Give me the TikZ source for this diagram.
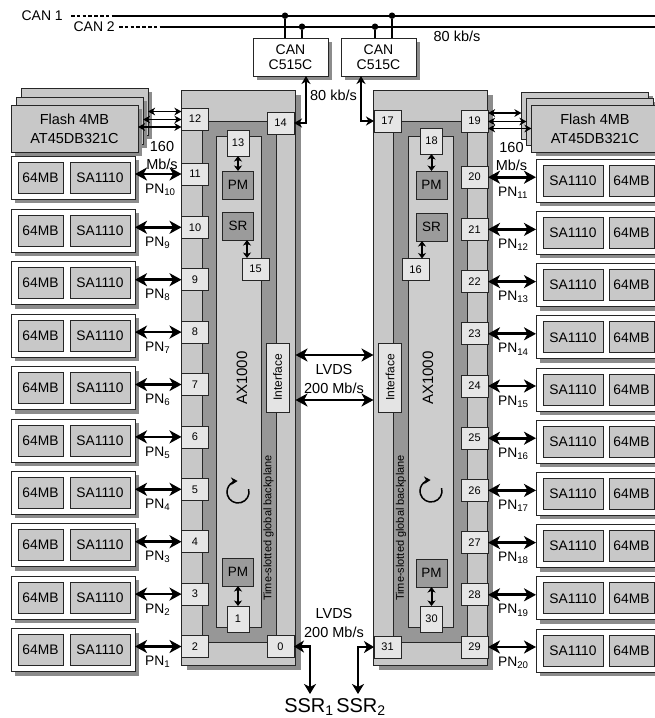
\documentclass[tikz,border=0pt]{standalone}
\usepackage{fontspec}
\setmainfont{Liberation Sans}
\usetikzlibrary{arrows.meta,shadows,calc}
\definecolor{boardg}{HTML}{C8C8C8}
\definecolor{frameg}{HTML}{979797}
\definecolor{innerg}{HTML}{CDCDCD}
\definecolor{slotg}{HTML}{E6E6E6}
\definecolor{pmg}{HTML}{9B9B9B}
\definecolor{shadg}{HTML}{8C8C8C}
\definecolor{ifg}{HTML}{E4E4E4}
\newcommand{\fsz}[1]{\fontsize{#1}{#1}\selectfont}
\tikzset{
  rbox/.style={draw=black!85, line width=0.7pt, rectangle, inner sep=0pt, outer sep=0pt},
  shad/.style={general shadow={fill=shadg, shadow xshift=4pt, shadow yshift=-4pt}},
  boardbox/.style={rbox, fill=boardg, general shadow={fill=shadg, shadow xshift=5pt, shadow yshift=-5pt}},
  framebox/.style={rbox, fill=frameg},
  innerbox/.style={rbox, fill=innerg},
  slotbox/.style={rbox, fill=slotg, minimum width=27pt, minimum height=22pt, font=\fsz{11}},
  tallslot/.style={slotbox, minimum width=22pt, minimum height=26pt},
  pmbox/.style={rbox, fill=pmg, minimum width=31pt, minimum height=28pt, font=\fsz{13.5}},
  ifbox/.style={rbox, fill=ifg, rotate=90, minimum width=69pt, minimum height=23pt, font=\fsz{12}},
  pnbox/.style={rbox, fill=white, shad, minimum height=43pt},
  chipbox/.style={rbox, fill=boardg, minimum height=31pt, font=\fsz{13.8}},
  flashbox/.style={rbox, fill=boardg, shad, minimum width=127pt, minimum height=47pt, align=center, font=\fontsize{14.5}{19}\selectfont},
  canbox/.style={rbox, fill=white, shad, minimum width=75pt, minimum height=38pt, align=center, font=\fontsize{14}{15}\selectfont},
  lbl/.style={inner sep=0pt, font=\fsz{14.5}},
  pnlbl/.style={inner sep=0pt, font=\fsz{13.8}},
  big/.style={line width=2.7pt, >={Stealth[length=12pt,width=13pt,inset=3.5pt]}, <->},
  ssr/.style={line width=2.7pt, >={Stealth[length=10pt,width=12pt,inset=3pt]}, <->},
  thinarr/.style={line width=1.5pt, >={Stealth[length=7pt,width=7.5pt,inset=2pt]}, <->},
  canarr/.style={line width=2.2pt, >={Stealth[length=8pt,width=9pt,inset=2.5pt]}, <->},
  small/.style={line width=2pt, >={Stealth[length=5.5pt,width=8pt,inset=1.5pt]}, <->},
  rot/.style={line width=1.5pt, -{Stealth[length=6.5pt,width=7.5pt,inset=2pt]}},
  bus/.style={line width=1.6pt},
  busdash/.style={line width=1.6pt, dash pattern=on 3.5pt off 2.3pt},
  dot/.style={circle, fill=black, inner sep=0pt, minimum size=6.5pt},
}
\begin{document}
\begin{tikzpicture}[x=1pt,y=-1pt]
\useasboundingbox[fill=white] (0,0) rectangle (655,718);

% ---------- CAN buses ----------
\node[anchor=east, inner sep=0pt, font=\fsz{14}] (lc1) at (63,15.7) {CAN 1};
\node[anchor=east, inner sep=0pt, font=\fsz{14}] (lc2) at (115,26.7) {CAN 2};
\coordinate (c1a) at (71,15.7);  \coordinate (c1b) at (113,15.7); \coordinate (c1e) at (655,15.7);
\coordinate (c2a) at (119,26.7); \coordinate (c2b) at (163,26.7); \coordinate (c2e) at (655,26.7);
\draw[busdash] (c1a) -- (c1b);
\draw[bus] (c1b) -- (c1e);
\draw[busdash] (c2a) -- (c2b);
\draw[bus] (c2b) -- (c2e);

\node[canbox] (can1) at (290.5,57) {CAN\\C515C};
\node[canbox] (can2) at (378.5,57) {CAN\\C515C};
\node[dot] (d1) at (285,15.7) {};
\node[dot] (d2) at (302,26.7) {};
\node[dot] (d3) at (375,26.7) {};
\node[dot] (d4) at (392,15.7) {};
\draw[line width=1.1pt] (d1) -- (d1 |- can1.north);
\draw[line width=1.1pt] (d2) -- (d2 |- can1.north);
\draw[line width=1.1pt] (d3) -- (d3 |- can2.north);
\draw[line width=1.1pt] (d4) -- (d4 |- can2.north);
\node[lbl] (kb1) at (457,36) {80 kb/s};

% ---------- Left board ----------
\node[boardbox, minimum width=114pt, minimum height=575pt] (bL) at (238.5,377.5) {};
\node[framebox, minimum width=74pt, minimum height=521pt] (fL) at (239,381.5) {};
\node[innerbox, minimum width=45pt, minimum height=491pt] (iL) at (238.5,381.5) {};
\node[ifbox] (ifL) at (277.5,377.5) {Interface};
\node[rotate=90, font=\fsz{15}, inner sep=0pt] (axL) at (242,378) {AX1000};
\node[rotate=90, font=\fsz{11}, inner sep=0pt] (tsL) at (268.5,528) {Time-slotted global backplane};
\coordinate (rotL) at (238,492);
\draw[rot] ([shift={(-15:11)}]rotL) arc[start angle=-15, end angle=268, radius=11];

\node[slotbox] (s12) at (195,119) {12};
\node[slotbox] (s14) at (280.5,123) {14};
\node[slotbox] (s0) at (280.5,646.5) {0};
\node[tallslot] (s13) at (238,143) {13};
\node[tallslot] (s1) at (238,619) {1};
\node[slotbox] (s15) at (255.5,269) {15};
\node[pmbox] (pmL1) at (238,185) {PM};
\node[pmbox] (srL) at (238,226) {SR};
\node[pmbox] (pmL2) at (238,572) {PM};
\draw[small] (s13.south) -- (pmL1.north);
\draw[small] ([xshift=9pt]srL.south) -- ([xshift=9pt]srL.south |- s15.north);
\draw[small] (pmL2.south) -- (s1.north);

% ---------- Right board ----------
\node[boardbox, minimum width=114pt, minimum height=575pt] (bR) at (430.5,377.5) {};
\node[framebox, minimum width=74pt, minimum height=521pt] (fR) at (430,381.5) {};
\node[innerbox, minimum width=45pt, minimum height=491pt] (iR) at (430.5,381.5) {};
\node[ifbox] (ifR) at (390,377.5) {Interface};
\node[rotate=90, font=\fsz{15}, inner sep=0pt] (axR) at (428,378) {AX1000};
\node[rotate=90, font=\fsz{11}, inner sep=0pt] (tsR) at (401,528) {Time-slotted global backplane};
\coordinate (rotR) at (431,491);
\draw[rot] ([shift={(-15:11)}]rotR) arc[start angle=-15, end angle=268, radius=11];

\node[slotbox] (s17) at (387.5,121) {17};
\node[slotbox] (s19) at (474.5,121) {19};
\node[slotbox] (s31) at (387.5,647) {31};
\node[tallslot] (s18) at (431.5,141) {18};
\node[tallslot] (s30) at (431.5,619) {30};
\node[slotbox] (s16) at (415.5,269.5) {16};
\node[pmbox] (pmR1) at (431.5,185) {PM};
\node[pmbox] (srR) at (431.5,227) {SR};
\node[pmbox] (pmR2) at (431.5,573) {PM};
\draw[small] (s18.south) -- (pmR1.north);
\draw[small] ([xshift=-9.5pt]srR.south) -- ([xshift=-9.5pt]srR.south |- s16.north);
\draw[small] (pmR2.south) -- (s30.north);

% ---------- Left processing nodes ----------
\foreach \k/\y in {1/646.5,2/594.1,3/541.7,4/489.3,5/436.9,6/384.5,7/332.1,8/279.7,9/227.3,10/174}{
  \pgfmathtruncatemacro\s{\k+1}
  \node[slotbox] (s\s) at (195,\y) {\s};
  \node[pnbox, minimum width=124pt] (pnL\k) at (73,\y+3.5) {};
  \node[chipbox, minimum width=45pt] (mL\k) at (40.5,\y+3.5) {64MB};
  \node[chipbox, minimum width=60pt] (cL\k) at (100,\y+3.5) {SA1110};
  \draw[big] (pnL\k.east |- s\s.west) -- (s\s.west);
  \node[pnlbl, anchor=west] (tL\k) at (145,\y+15.5) {PN\textsubscript{\k}};
}

% ---------- Right processing nodes ----------
\foreach \k/\y in {11/177.2,12/229.4,13/281.6,14/333.8,15/386,16/438.2,17/490.4,18/542.6,19/594.8,20/647}{
  \pgfmathtruncatemacro\s{\k+9}
  \node[slotbox] (s\s) at (474.5,\y) {\s};
  \node[pnbox, minimum width=125pt] (pnR\k) at (598.5,\y+3.5) {};
  \node[chipbox, minimum width=60pt] (cR\k) at (573,\y+3.5) {SA1110};
  \node[chipbox, minimum width=45pt] (mR\k) at (631.5,\y+3.5) {64MB};
  \draw[big] (s\s.east) -- (pnR\k.west |- s\s.east);
  \node[pnlbl, anchor=west] (tR\k) at (498,\y+15.5) {PN\textsubscript{\k}};
}

% ---------- Flash ----------
\node[flashbox] (flL3) at (84.5,111.5) {};
\node[flashbox] (flL2) at (79.5,120.5) {};
\node[flashbox] (flL1) at (74.5,128.5) {Flash 4MB\\AT45DB321C};
\draw[thinarr] (flL3.east) -- (flL3.east -| s12.west);
\draw[thinarr] ([yshift=1pt]flL2.east) -- ([yshift=1pt]flL2.east -| s12.west);
\draw[thinarr] ([yshift=1.5pt]flL1.east) -- ([yshift=1.5pt]flL1.east -| s12.west);
\node[lbl, align=center, font=\fontsize{14.5}{18}\selectfont] (r160L) at (162,156) {160\\Mb/s};

\node[flashbox] (flR3) at (585,115.5) {};
\node[flashbox] (flR2) at (590,121.5) {};
\node[flashbox] (flR1) at (595,128.5) {Flash 4MB\\AT45DB321C};
\draw[thinarr] ([yshift=2.5pt]s19.east |- flR3.west) -- ([yshift=2.5pt]flR3.west);
\draw[thinarr] (s19.east |- flR2.west) -- (flR2.west);
\draw[thinarr] (s19.east |- flR1.west) -- (flR1.west);
\node[lbl, align=center, font=\fontsize{14.5}{18}\selectfont] (r160R) at (511.5,157) {160\\Mb/s};

% ---------- CAN links ----------
\coordinate (k1) at (306,123);
\coordinate (k2) at (361,121);
\draw[canarr] (can1.south -| k1) -- (k1) -- (s14.east);
\draw[canarr] (can2.south -| k2) -- (k2) -- (s17.west);
\node[lbl] (kb2) at (333.5,95) {80 kb/s};

% ---------- LVDS between boards ----------
\coordinate (lv1) at (0,355);
\coordinate (lv2) at (0,400);
\draw[big] (bL.east |- lv1) -- (bR.west |- lv1);
\draw[big] (bL.east |- lv2) -- (bR.west |- lv2);
\node[lbl] (lvds1) at (334,370) {LVDS};
\node[lbl] (lvds1b) at (334,388) {200 Mb/s};

% ---------- SSR ----------
\node[lbl] (lvds2) at (334,614) {LVDS};
\node[lbl] (lvds2b) at (334,632) {200 Mb/s};
\coordinate (q1) at (310,646.5);
\coordinate (q1b) at (310,694);
\coordinate (q2) at (358,647);
\coordinate (q2b) at (358,694);
\draw[ssr] (s0.east) -- (q1) -- (q1b);
\draw[ssr] (s31.west) -- (q2) -- (q2b);
\node[inner sep=0pt, font=\fsz{20}] (ssr1) at (309,707) {SSR\textsubscript{1}};
\node[inner sep=0pt, font=\fsz{20}] (ssr2) at (361,707) {SSR\textsubscript{2}};
\end{tikzpicture}
\end{document}
